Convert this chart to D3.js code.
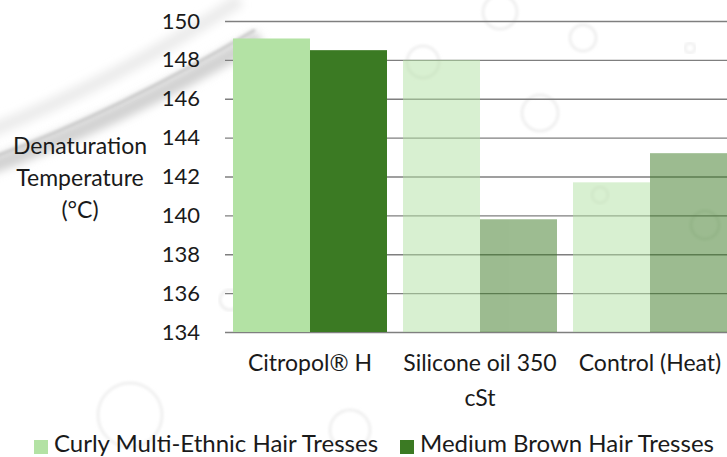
<!DOCTYPE html>
<html lang="en">
<head>
<meta charset="UTF-8">
<title>Denaturation Temperature</title>
<script src="https://d3js.org/d3.v7.min.js"></script>
<style>
  body { margin: 0; background: #fff; }
  svg { display: block; font-family: Lato, "Noto Sans", sans-serif; }
</style>
</head>
<body>
<svg id="chart" width="727" height="457"></svg>
<script>
// data
var categories = ["Citropol\u00AE H", "Silicone oil 350 cSt", "Control (Heat)"];
var seriesNames = ["Curly Multi-Ethnic Hair Tresses", "Medium Brown Hair Tresses"];
var curlyValues = [149.1, 148.0, 141.7];
var brownValues = [148.5, 139.8, 143.2];
var yTicks = [134, 136, 138, 140, 142, 144, 146, 148, 150];

var colors = ["#b3e2a4", "#3b7a23"];
var catOpacity = [1, 0.5, 0.5];   // last two groups are faded

var W = 727, H = 457;
var svg = d3.select("#chart");

// faint watery background
var defs = svg.append("defs");
defs.append("filter").attr("id", "blur").append("feGaussianBlur").attr("stdDeviation", 4);
defs.append("filter").attr("id", "blur2").append("feGaussianBlur").attr("stdDeviation", 1.5);
var bg = svg.append("g");
bg.append("path")
  .attr("d", "M-20,170 Q110,125 260,38")
  .attr("fill", "none").attr("stroke", "#d2d2d2").attr("stroke-width", 16)
  .attr("filter", "url(#blur)");
bg.append("path")
  .attr("d", "M-20,162 Q110,116 255,30")
  .attr("fill", "none").attr("stroke", "#c8c8c8").attr("stroke-width", 3)
  .attr("filter", "url(#blur2)");
bg.append("path")
  .attr("d", "M-20,135 Q110,85 240,0")
  .attr("fill", "none").attr("stroke", "#ececec").attr("stroke-width", 14)
  .attr("filter", "url(#blur)");
var bubbles = [[500, 12, 17], [583, 38, 13], [423, 62, 16], [540, 113, 18], [690, 48, 5],
               [130, 415, 32], [705, 225, 14], [230, 300, 10], [600, 195, 8], [350, 430, 20]];
bg.selectAll("circle").data(bubbles).join("circle")
  .attr("cx", function(d){ return d[0]; })
  .attr("cy", function(d){ return d[1]; })
  .attr("r", function(d){ return d[2]; })
  .attr("fill", "none").attr("stroke", "#e8e8e8").attr("stroke-width", 2)
  .attr("filter", "url(#blur2)");

// scales
var x0 = d3.scaleBand().domain(categories).range([225, 735])
  .paddingInner(16 / 170).paddingOuter(8 / 170);
var x1 = d3.scaleBand().domain(seriesNames).range([0, x0.bandwidth()]);
var y = d3.scaleLinear().domain([134, 150]).range([332, 21]);

// gridlines + tick labels
var yAxis = svg.append("g")
  .attr("transform", "translate(225,0)")
  .call(d3.axisLeft(y).tickValues(yTicks).tickSize(-(W - 225)).tickPadding(25).tickFormat(d3.format("d")));
yAxis.select(".domain").remove();
yAxis.selectAll(".tick line").attr("stroke", "#7f7f7f").attr("stroke-width", 1.3);
yAxis.selectAll(".tick text").attr("font-size", 22).attr("fill", "#1a1a1a")
  .attr("font-family", "Lato, sans-serif");

// bars
var rows = categories.map(function(c, i){
  return { cat: c, i: i, vals: [curlyValues[i], brownValues[i]] };
});
var groups = svg.append("g").selectAll("g").data(rows).join("g")
  .attr("transform", function(d){ return "translate(" + x0(d.cat) + ",0)"; })
  .attr("opacity", function(d){ return catOpacity[d.i]; });
groups.selectAll("rect")
  .data(function(d){ return d.vals.map(function(v, k){ return { k: k, v: v }; }); })
  .join("rect")
  .attr("x", function(d){ return x1(seriesNames[d.k]); })
  .attr("width", x1.bandwidth())
  .attr("y", function(d){ return y(d.v); })
  .attr("height", function(d){ return y(134) - y(d.v); })
  .attr("fill", function(d){ return colors[d.k]; });

// category labels (wrapped like the original)
var catLines = { "Silicone oil 350 cSt": ["Silicone oil 350", "cSt"] };
svg.append("g").selectAll("text").data(categories).join("text")
  .attr("text-anchor", "middle")
  .attr("font-size", 23).attr("fill", "#1a1a1a")
  .attr("x", function(d){ return x0(d) + x0.bandwidth() / 2; })
  .attr("y", 371)
  .selectAll("tspan")
  .data(function(d){ return catLines[d] || [d]; })
  .join("tspan")
  .attr("x", function(){ return this.parentNode.getAttribute("x"); })
  .attr("dy", function(d, i){ return i ? 35 : 0; })
  .text(function(d){ return d; });

// y title
svg.append("text")
  .attr("text-anchor", "middle").attr("font-size", 23).attr("fill", "#1a1a1a")
  .selectAll("tspan")
  .data(["Denaturation", "Temperature", "(\u00B0C)"])
  .join("tspan")
  .attr("x", 80)
  .attr("y", function(d, i){ return 154 + i * 32; })
  .text(function(d){ return d; });

// legend
var legend = svg.append("g");
var legX = [34, 400];
var items = legend.selectAll("g").data(seriesNames).join("g")
  .attr("transform", function(d, i){ return "translate(" + legX[i] + ",440)"; });
items.append("rect").attr("width", 14).attr("height", 14)
  .attr("fill", function(d, i){ return colors[i]; });
items.append("text").attr("x", 20).attr("y", 12)
  .attr("font-size", 24).attr("fill", "#1a1a1a")
  .text(function(d){ return d; });
</script>
</body>
</html>
